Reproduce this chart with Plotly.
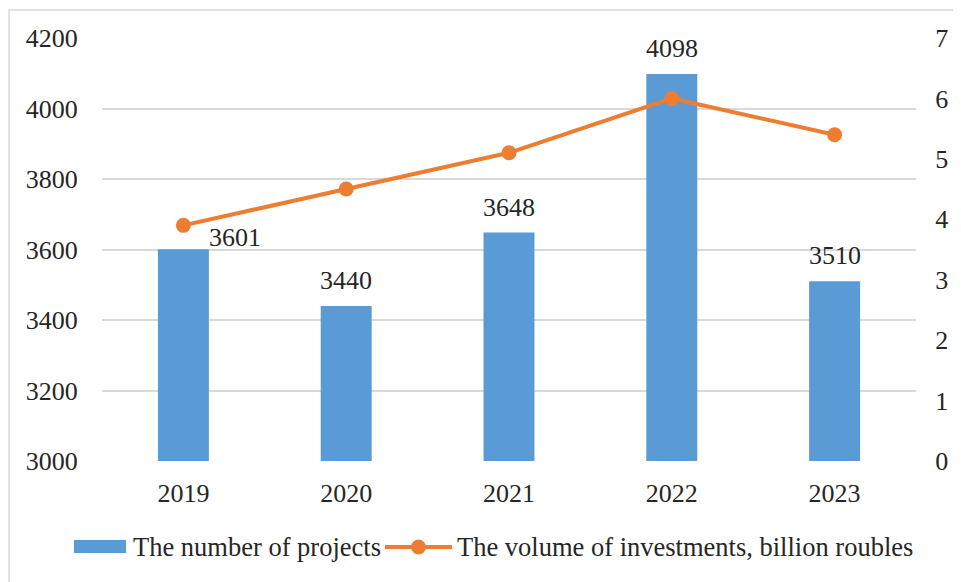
import plotly.graph_objects as go

years = ["2019", "2020", "2021", "2022", "2023"]
projects = [3601, 3440, 3648, 4098, 3510]
investments = [3.9, 4.5, 5.1, 6.0, 5.4]
left_ticks = [3000, 3200, 3400, 3600, 3800, 4000, 4200]
right_ticks = [0, 1, 2, 3, 4, 5, 6, 7]
bar_name = "The number of projects"
line_name = "The volume of investments, billion roubles"

FONT = "Liberation Serif, Times New Roman, serif"
TXT = "#262626"
BLUE = "#5b9bd5"
ORANGE = "#ed7d31"
GRID = "#d9d9d9"

# the page body adds an 8px margin, so the figure is a bit smaller than the window
OFF = 8
W, H = 961 - OFF, 582 - OFF
ML, MR, MT, MB = 102 - OFF, 45, 38 - OFF, 121
PW, PH = W - ML - MR, H - MT - MB


def px(x):
    # page pixel x -> paper coordinate
    return (x - OFF - ML) / PW


def py(y):
    # page pixel y -> paper coordinate
    return (H - MB - (y - OFF)) / PH


fig = go.Figure()
fig.add_trace(go.Bar(
    x=years, y=projects, name=bar_name,
    marker=dict(color=BLUE, line=dict(width=0)), showlegend=False,
))
fig.add_trace(go.Scatter(
    x=years, y=investments, name=line_name,
    mode="lines+markers", line=dict(color=ORANGE, width=4),
    marker=dict(color=ORANGE, size=15), yaxis="y2", showlegend=False,
))

annotations = []
for i, v in enumerate(projects):
    annotations.append(dict(
        x=i, y=v, xref="x", yref="y", text=str(v), showarrow=False,
        yanchor="bottom", xanchor="center",
        xshift=52 if i == 0 else 0, yshift=-5 if i == 0 else 9,
        font=dict(family=FONT, size=26, color=TXT),
    ))

# custom legend (swatches + labels) below the plot
leg_y = 547
annotations.append(dict(x=px(131), y=py(leg_y), xref="paper", yref="paper",
                        text=bar_name, showarrow=False, xanchor="left", yanchor="middle",
                        font=dict(family=FONT, size=26.5, color=TXT)))
annotations.append(dict(x=px(455), y=py(leg_y), xref="paper", yref="paper",
                        text=line_name, showarrow=False, xanchor="left", yanchor="middle",
                        font=dict(family=FONT, size=26.5, color=TXT)))

shapes = [
    dict(type="rect", xref="paper", yref="paper",
         x0=px(9), x1=px(990), y0=py(600), y1=py(10),
         line=dict(color=GRID, width=1.5), fillcolor="rgba(0,0,0,0)", layer="below"),
    dict(type="rect", xref="paper", yref="paper",
         x0=px(74), x1=px(126), y0=py(553), y1=py(540),
         line=dict(width=0), fillcolor=BLUE),
    dict(type="line", xref="paper", yref="paper",
         x0=px(385), x1=px(452), y0=py(leg_y), y1=py(leg_y),
         line=dict(color=ORANGE, width=4)),
    dict(type="circle", xref="paper", yref="paper",
         x0=px(418.5 - 7.5), x1=px(418.5 + 7.5), y0=py(leg_y + 7.5), y1=py(leg_y - 7.5),
         line=dict(width=0), fillcolor=ORANGE),
]

fig.update_layout(
    width=W, height=H,
    margin=dict(l=ML, r=MR, t=MT, b=MB),
    paper_bgcolor="white", plot_bgcolor="white",
    font=dict(family=FONT, size=26, color=TXT),
    bargap=0.687,
    showlegend=False,
    xaxis=dict(type="category", range=[-0.5, 4.5], showgrid=False, showline=False,
               zeroline=False, ticks="outside", ticklen=9, tickcolor="rgba(0,0,0,0)",
               automargin=False, tickfont=dict(family=FONT, size=26, color=TXT)),
    yaxis=dict(range=[3000, 4200], tickvals=left_ticks, showgrid=True,
               gridcolor=GRID, gridwidth=1.5, zeroline=False, showline=False,
               ticks="outside", ticklen=18, tickcolor="rgba(0,0,0,0)",
               automargin=False, tickfont=dict(family=FONT, size=26, color=TXT)),
    yaxis2=dict(range=[0, 7], tickvals=right_ticks, overlaying="y", side="right",
                showgrid=False, zeroline=False, showline=False,
                ticks="outside", ticklen=13, tickcolor="rgba(0,0,0,0)",
                automargin=False, tickfont=dict(family=FONT, size=26, color=TXT)),
    annotations=annotations,
    shapes=shapes,
)

fig.write_html("out.html")
